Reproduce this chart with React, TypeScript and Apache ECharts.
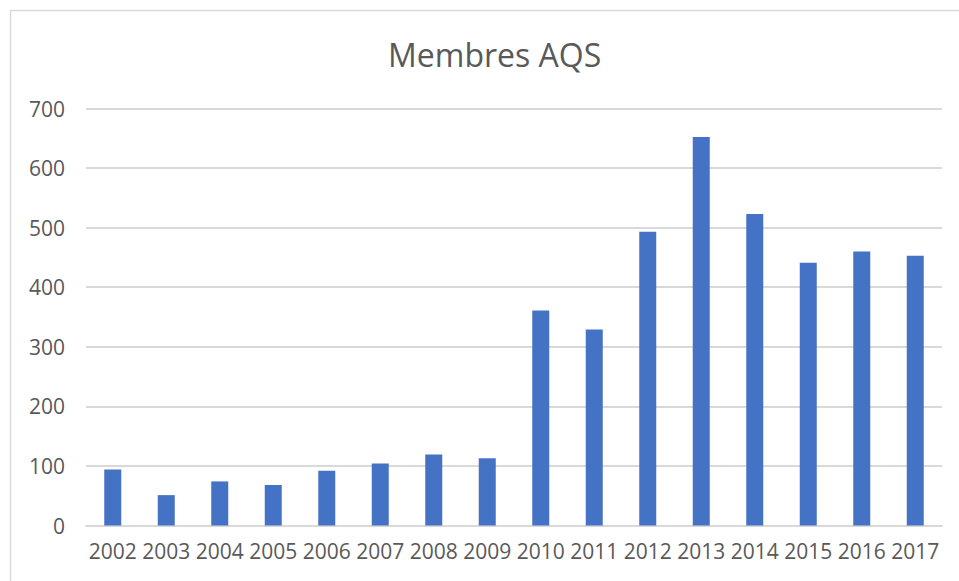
import React, { useEffect, useRef } from "react";
import * as echarts from "echarts";

const categories = ["2002", "2003", "2004", "2005", "2006", "2007", "2008", "2009", "2010", "2011", "2012", "2013", "2014", "2015", "2016", "2017"];
const members = [94, 51, 74, 68, 92, 104, 119, 113, 361, 329, 493, 652, 523, 441, 460, 453];
const yTicks = { min: 0, max: 700, interval: 100 };
const titleText = "Membres AQS";

export default function App() {
  const ref = useRef<HTMLDivElement>(null);
  useEffect(() => {
    if (!ref.current) return;
    const chart = echarts.init(ref.current, null, { renderer: "svg" });
    const font = "'Open Sans', 'Noto Sans', sans-serif";
    chart.setOption({
      animation: false,
      backgroundColor: "#ffffff",
      title: {
        text: titleText,
        left: 383,
        top: 33,
        textStyle: { color: "#595959", fontSize: 32, fontWeight: "normal", fontFamily: font },
      },
      graphic: [
        {
          type: "rect",
          shape: { x: 10.5, y: 10.5, width: 980, height: 600 },
          style: { fill: "none", stroke: "#d9d9d9", lineWidth: 1.5 },
          silent: true,
        },
      ],
      grid: { left: 86, right: 17, top: 108.5, bottom: 55.5, containLabel: false },
      xAxis: {
        type: "category",
        data: categories,
        axisLine: { show: true, lineStyle: { color: "#d9d9d9", width: 2 } },
        axisTick: { show: false },
        axisLabel: { color: "#595959", fontSize: 21, fontFamily: font, margin: 15, interval: 0 },
      },
      yAxis: {
        type: "value",
        min: yTicks.min,
        max: yTicks.max,
        interval: yTicks.interval,
        axisLine: { show: false },
        axisTick: { show: false },
        splitLine: { lineStyle: { color: "#d9d9d9", width: 2 } },
        axisLabel: { color: "#595959", fontSize: 21, fontFamily: font, margin: 21 },
      },
      series: [
        {
          type: "bar",
          data: members,
          barWidth: 17,
          itemStyle: { color: "#4472c4" },
        },
      ],
    });
    return () => chart.dispose();
  }, []);
  return <div ref={ref} style={{ position: "absolute", left: 0, top: 0, width: 959, height: 581 }} />;
}
